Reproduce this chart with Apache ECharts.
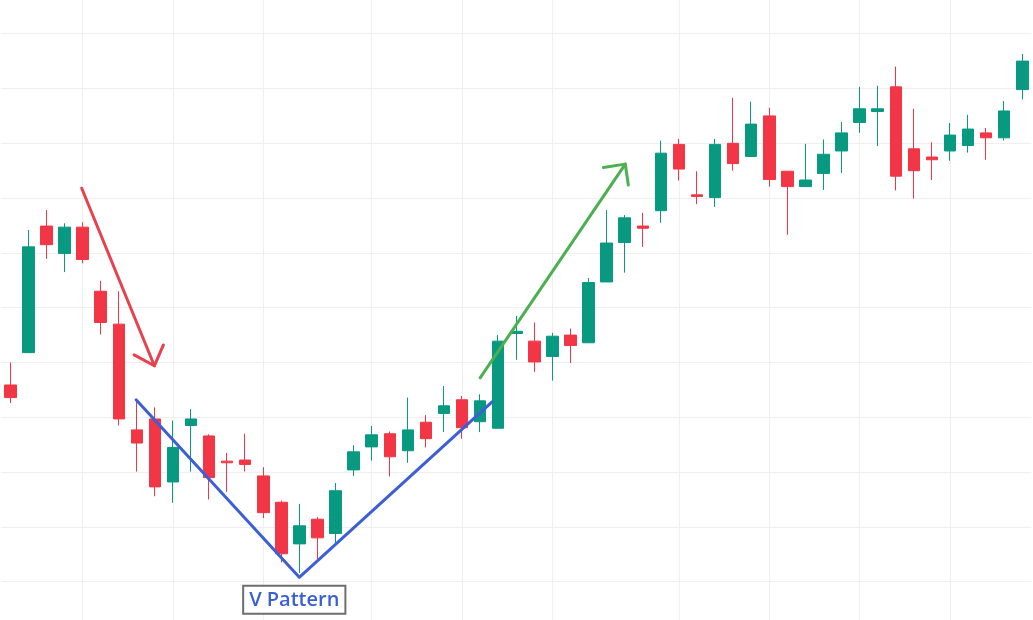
<!DOCTYPE html>
<html>
<head>
<meta charset="utf-8">
<title>V Pattern</title>
<script src="https://cdn.jsdelivr.net/npm/echarts/dist/echarts.min.js"></script>
<style>
  html, body { margin: 0; padding: 0; background: #fff; }
  #chart { width: 1033px; height: 620px; }
</style>
</head>
<body>
<div id="chart"></div>
<script>
// sessions on the x axis
const days = ['1','2','3','4','5','6','7','8','9','10','11','12','13','14','15','16','17','18','19','20',
  '21','22','23','24','25','26','27','28','29','30','31','32','33','34','35','36','37','38','39','40',
  '41','42','43','44','45','46','47','48','49','50','51','52','53','54','55','56','57'];

// sessions that carry a vertical grid line, and price levels with a horizontal one
const gridDays = [4, 9, 14, 20, 25, 30, 37, 42, 47, 52];
const gridLevels = [0, 10, 20, 30, 40, 50, 60, 70, 80, 90, 100];

const opens = [35.9, 41.8, 64.9, 59.9, 64.7, 53.0, 47.0, 27.7, 29.7, 18.2, 28.5, 26.6, 22.0, 22.2, 19.3,
  14.5, 6.9, 11.4, 8.8, 20.4, 24.6, 27.0, 23.9, 29.1, 30.7, 33.2, 29.2, 28.0, 45.3, 43.9, 41.1, 45.0,
  43.6, 54.7, 61.9, 64.9, 67.7, 79.8, 70.6, 70.1, 80.0, 77.6, 85.0, 74.9, 72.1, 74.5, 78.6, 83.8, 85.8,
  90.3, 79.0, 77.5, 78.6, 79.6, 81.9, 81.0, 89.8];
const closes = [33.6, 61.1, 61.5, 64.7, 58.8, 47.3, 29.7, 25.3, 17.3, 24.5, 29.7, 19.0, 21.7, 21.4, 12.6,
  5.1, 10.2, 8.0, 16.6, 23.7, 26.8, 22.8, 27.7, 26.1, 32.1, 28.1, 33.0, 43.9, 45.7, 40.1, 44.8, 43.1,
  54.6, 61.8, 66.4, 64.5, 78.2, 75.3, 70.3, 79.8, 76.3, 83.5, 73.4, 72.1, 73.3, 78.0, 81.9, 86.3, 86.3,
  74.0, 75.0, 77.0, 81.5, 82.6, 81.0, 85.9, 95.0];
const lows = [32.6, 41.8, 58.9, 56.5, 58.1, 45.1, 28.5, 20.1, 15.6, 14.4, 20.1, 15.0, 16.4, 20.1, 11.6,
  3.5, 1.6, 4.1, 7.0, 19.3, 22.1, 19.2, 21.7, 24.5, 27.3, 26.1, 27.3, 28.0, 40.5, 38.3, 36.7, 39.9,
  43.6, 54.7, 56.4, 61.1, 65.5, 73.2, 68.9, 68.4, 75.0, 77.6, 72.1, 63.3, 72.1, 71.5, 74.6, 81.9, 79.5,
  71.4, 69.9, 73.3, 76.8, 78.3, 77.0, 80.5, 88.0];
const highs = [40.0, 64.2, 67.8, 65.4, 65.6, 54.9, 53.0, 33.2, 31.8, 29.4, 31.5, 26.9, 23.5, 27.0, 20.9,
  14.8, 14.2, 11.8, 18.0, 24.9, 28.4, 27.4, 33.6, 30.4, 35.7, 33.9, 34.2, 45.0, 48.5, 47.3, 45.4, 46.2,
  55.4, 67.8, 66.9, 67.3, 80.5, 80.8, 74.9, 80.8, 88.3, 87.6, 86.5, 74.9, 79.9, 80.7, 83.9, 90.3, 90.5,
  94.0, 86.3, 80.2, 83.7, 85.2, 82.8, 87.7, 96.3];

// drawn annotations, as [session index, price]
const dropArrow = [[3.95, 71.8], [7.97, 39.4]];
const dropHead = [[6.85, 41.4], [7.97, 39.4], [8.47, 43.2]];
const riseArrow = [[26.0, 37.2], [34.03, 76.2]];
const riseHead = [[32.82, 75.6], [34.03, 76.2], [34.2, 72.4]];
const vLine = [[6.96, 33.2], [15.99, 0.8], [26.66, 32.8]];
const vLabel = 'V Pattern';

const UP = '#089981';
const DOWN = '#F23645';
const GRID = '#efefef';

const candles = days.map((d, i) => [opens[i], closes[i], lows[i], highs[i]]);

function drawn(points, color) {
  return {
    type: 'line',
    xAxisIndex: 1,
    data: points,
    symbol: 'none',
    silent: true,
    z: 4,
    lineStyle: { color: color, width: 3, cap: 'round', join: 'round' }
  };
}

const chart = echarts.init(document.getElementById('chart'));
chart.setOption({
  animation: false,
  backgroundColor: '#fff',
  grid: { left: 1.3, right: 1.7, top: 0, bottom: 0 },
  xAxis: [
    {
      type: 'category',
      data: days,
      boundaryGap: true,
      axisLine: { show: false },
      axisTick: { show: false },
      axisLabel: { show: false },
      splitLine: { show: false }
    },
    { type: 'value', min: -0.5, max: days.length - 0.5, show: false }
  ],
  yAxis: {
    type: 'value',
    min: -6.99,
    max: 106.15,
    axisLine: { show: false },
    axisTick: { show: false },
    axisLabel: { show: false },
    splitLine: { show: false }
  },
  series: [
    {
      type: 'candlestick',
      data: candles,
      barWidth: 12,
      z: 2,
      itemStyle: {
        color: UP,
        color0: DOWN,
        borderColor: UP,
        borderColor0: DOWN,
        borderWidth: 1
      },
      markLine: {
        silent: true,
        z: 1,
        symbol: ['none', 'none'],
        label: { show: false },
        lineStyle: { color: GRID, width: 1, type: 'solid' },
        emphasis: { disabled: true },
        data: gridDays.map(d => ({ xAxis: d })).concat(gridLevels.map(v => ({ yAxis: v })))
      }
    },
    drawn(dropArrow, '#e8414e'),
    drawn(dropHead, '#e8414e'),
    drawn(riseArrow, '#4caf50'),
    drawn(riseHead, '#4caf50'),
    Object.assign(drawn(vLine.map((p, i) => i === 1 ? {
      value: p,
      symbol: 'circle',
      symbolSize: 1,
      label: {
        show: true,
        position: 'bottom',
        distance: 9,
        offset: [-5, 0],
        formatter: vLabel,
        fontFamily: 'Open Sans',
        fontSize: 20,
        fontWeight: 600,
        lineHeight: 24,
        color: '#3a5fcf',
        backgroundColor: '#fff',
        borderColor: '#6e6e6e',
        borderWidth: 2,
        padding: [1, 5, 1, 5]
      }
    } : p), '#3c5fd8'), { showSymbol: true, symbol: 'none' })
  ]
});
</script>
</body>
</html>
